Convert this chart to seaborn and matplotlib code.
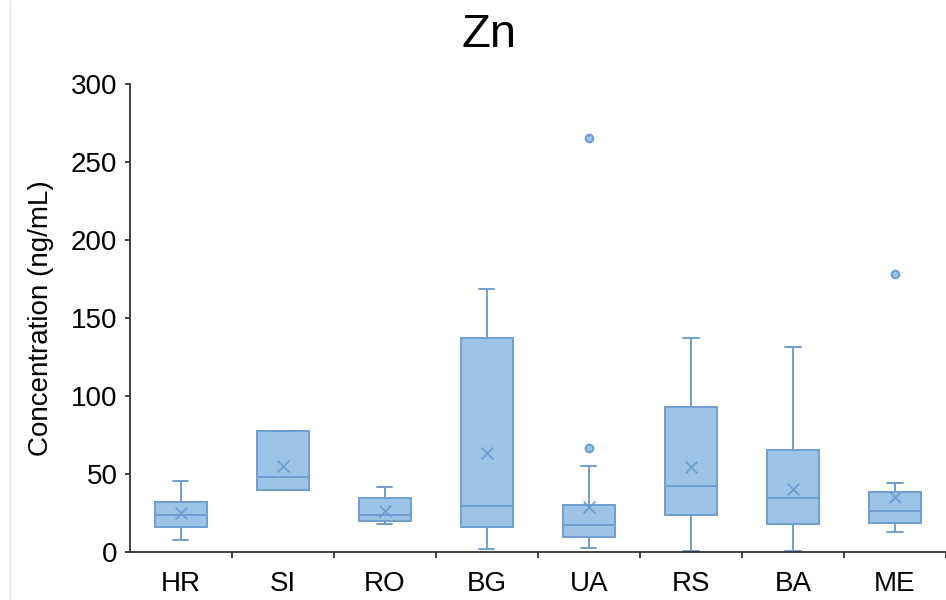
import matplotlib
matplotlib.use("Agg")
import matplotlib.pyplot as plt
import seaborn as sns
import pandas as pd
from matplotlib.lines import Line2D

# values (ng/mL)
countries = ["HR", "SI", "RO", "BG", "UA", "RS", "BA", "ME"]
whisker_low = [7.5, 39.5, 17.7, 1.9, 2.8, 0.8, 0.8, 12.8]
q1 = [15.8, 39.5, 19.7, 16.0, 9.8, 23.7, 17.7, 18.8]
median = [24.0, 48.3, 23.5, 29.3, 17.5, 42.3, 34.4, 26.5]
q3 = [32.0, 77.8, 34.4, 137.0, 30.3, 92.7, 65.2, 38.3]
whisker_high = [45.7, 77.8, 41.9, 168.5, 54.9, 137.0, 131.4, 44.0]
mean = [24.8, 55.1, 26.5, 63.7, 29.0, 54.5, 40.4, 35.5]
outlier_country = ["UA", "UA", "ME"]
outlier_value = [66.7, 265.4, 178.0]

face = "#9dc3e6"
edge = "#6f9fd0"

sns.set_style("ticks")
plt.rcParams["font.family"] = ["Liberation Sans", "DejaVu Sans"]
plt.rcParams["text.color"] = "black"
plt.rcParams["axes.labelcolor"] = "black"

fig = plt.figure(figsize=(9.46, 6.0), dpi=100)
ax = fig.add_axes([0.137, 0.08, 0.863, 0.78])

stats = []
for i, c in enumerate(countries):
    stats.append({"label": c, "whislo": whisker_low[i], "q1": q1[i], "med": median[i],
                  "q3": q3[i], "whishi": whisker_high[i], "mean": mean[i], "fliers": []})

ax.bxp(stats, positions=range(len(countries)), widths=0.51, capwidths=0.15,
       patch_artist=True, showmeans=False, showfliers=False,
       boxprops=dict(facecolor=face, edgecolor=edge, linewidth=1.4),
       medianprops=dict(color=edge, linewidth=1.4),
       whiskerprops=dict(color=edge, linewidth=1.4),
       capprops=dict(color=edge, linewidth=1.4))

# mean markers and outliers
means_df = pd.DataFrame({"x": range(len(countries)), "y": mean})
sns.scatterplot(data=means_df, x="x", y="y", marker="x", s=70, color=edge,
                linewidth=1.3, ax=ax, zorder=5)
out_df = pd.DataFrame({"x": [countries.index(c) for c in outlier_country], "y": outlier_value})
sns.scatterplot(data=out_df, x="x", y="y", marker="o", s=30, color=face,
                edgecolor=edge, linewidth=1.5, ax=ax, zorder=5)

ax.set_xlim(-0.5, 7.39)
ax.set_ylim(0, 300)
ax.set_yticks(range(0, 301, 50))
ax.set_xticks(range(len(countries)))
ax.set_xticklabels(countries)
ax.set_xticks([i + 0.5 for i in range(len(countries))], minor=True)
ax.tick_params(axis="x", which="major", length=0, pad=14, labelsize=20, labelcolor="black")
ax.tick_params(axis="x", which="minor", length=4.5, width=1.3, color="#333333", direction="out")
ax.tick_params(axis="y", length=3.8, width=1.3, color="#333333", pad=5, labelsize=20,
               labelcolor="black")
ax.set_xlabel("")
ax.set_ylabel("Concentration (ng/mL)", fontsize=20, labelpad=12)

sns.despine(ax=ax)
for s in ["left", "bottom"]:
    ax.spines[s].set_color("#333333")
    ax.spines[s].set_linewidth(1.3)

fig.text(489 / 946, 1 - 46.7 / 600, "Zn", fontsize=34, ha="center", va="baseline")
fig.add_artist(Line2D([10 / 946, 10 / 946], [0, 1], color="#e6e6e6", linewidth=1,
                      transform=fig.transFigure))

fig.savefig("out.png", dpi=100)
